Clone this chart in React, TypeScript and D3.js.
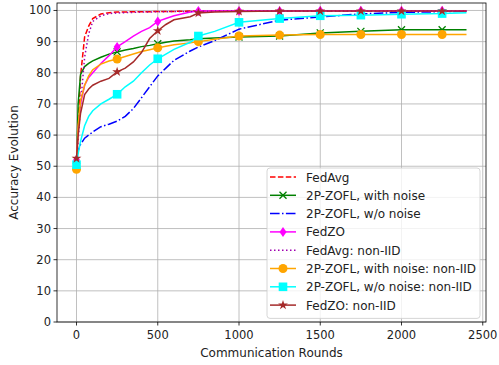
import * as d3 from 'd3';

// Communication rounds sampled for every curve
const rounds = [0, 10, 25, 50, 75, 100, 150, 200, 250, 300, 350, 400, 450, 500, 550, 600, 700, 750, 850, 1000, 1250, 1500, 1750, 2000, 2250, 2400];
const markerRounds = [0, 250, 500, 750, 1000, 1250, 1500, 1750, 2000, 2250];

const fedAvg = [52, 62, 79, 91.5, 95, 97.4, 98.9, 99.3, 99.5, 99.5, 99.6, 99.6, 99.6, 99.7, 99.7, 99.7, 99.8, 99.8, 99.8, 99.8, 99.8, 99.8, 99.8, 99.8, 99.8, 99.8];
const zoflNoise = [50, 70, 79.5, 82, 83, 83.8, 85, 86, 86.7, 87.3, 87.8, 88.4, 88.8, 89.3, 89.8, 90.2, 90.6, 90.9, 91.2, 91.5, 91.8, 92.8, 93.3, 93.8, 93.8, 93.8];
const zoflNoNoise = [53, 55, 57, 59, 60, 61, 62.7, 63.5, 64.5, 66, 68.5, 72, 75.5, 79, 81.5, 84, 87, 88.3, 90.3, 94, 96.9, 97.9, 98.9, 99.4, 99.6, 99.8];
const fedZO = [52, 62, 70, 76, 78.5, 80, 83, 85.5, 88.3, 90, 91.8, 93.3, 94.5, 96.5, 97.4, 98.3, 99.5, 99.8, 99.8, 99.8, 99.8, 99.9, 99.9, 99.9, 99.9, 99.9];
const fedAvgNonIID = [52, 58, 70, 85, 92.5, 96.5, 98.3, 99, 99.2, 99.3, 99.4, 99.5, 99.5, 99.6, 99.6, 99.7, 99.7, 99.7, 99.8, 99.8, 99.8, 99.8, 99.8, 99.8, 99.8, 99.8];
const zoflNoiseNonIID = [49, 63, 71, 76, 79, 81, 82.8, 83.8, 84.4, 85.2, 86, 86.8, 87.4, 88, 88.5, 89, 89.6, 90, 90.8, 91.8, 92.1, 92.3, 92.3, 92.3, 92.3, 92.3];
const zoflNoNoiseNonIID = [50.5, 54, 58, 63, 66, 67.8, 70, 71.5, 73.1, 75.5, 77.3, 80, 82.5, 84.5, 86, 87.5, 89.8, 91.8, 93.3, 96.2, 97.4, 98.3, 98.5, 98.8, 99, 99.3];
const fedZONonIID = [52.5, 60, 67, 73, 74.8, 76, 77.3, 78.2, 80.3, 81.5, 83.5, 86.5, 91, 93.5, 95.5, 97, 98, 99.2, 99.5, 99.7, 99.8, 99.8, 99.8, 99.8, 99.8, 99.8];

const xTicks = [0, 500, 1000, 1500, 2000, 2500];
const yTicks = [0, 10, 20, 30, 40, 50, 60, 70, 80, 90, 100];

type Marker = 'none' | 'x' | 'd' | 'o' | 's' | '*';
interface Series { label: string; values: number[]; color: string; dash?: string; marker: Marker; }

const series: Series[] = [
  { label: 'FedAvg', values: fedAvg, color: '#ff0000', dash: '5.5,2.4', marker: 'none' },
  { label: '2P-ZOFL, with noise', values: zoflNoise, color: '#008000', marker: 'x' },
  { label: '2P-ZOFL, w/o noise', values: zoflNoNoise, color: '#0000ff', dash: '9.6,2.4,1.5,2.4', marker: 'none' },
  { label: 'FedZO', values: fedZO, color: '#ff00ff', marker: 'd' },
  { label: 'FedAvg: non-IID', values: fedAvgNonIID, color: '#a000b0', dash: '1.5,2.5', marker: 'none' },
  { label: '2P-ZOFL, with noise: non-IID', values: zoflNoiseNonIID, color: '#ffa500', marker: 'o' },
  { label: '2P-ZOFL, w/o noise: non-IID', values: zoflNoNoiseNonIID, color: '#00ffff', marker: 's' },
  { label: 'FedZO: non-IID', values: fedZONonIID, color: '#a52a2a', marker: '*' },
];

const W = 499, H = 365;
const m = { left: 57, right: 13, top: 3, bottom: 43 };
const font = "'DejaVu Sans', sans-serif";

function MarkerShape({ kind, x, y, color }: { kind: Marker; x: number; y: number; color: string }) {
  if (kind === 'none') return null;
  if (kind === 'o') return <circle cx={x} cy={y} r={4.5} fill={color} />;
  if (kind === 's') return <rect x={x - 4.3} y={y - 4.3} width={8.6} height={8.6} fill={color} />;
  if (kind === 'x') {
    const s = 3.5;
    return <path d={`M${x - s},${y - s}L${x + s},${y + s}M${x - s},${y + s}L${x + s},${y - s}`} stroke={color} strokeWidth={1.3} fill="none" />;
  }
  if (kind === 'd') {
    return <path d={`M${x},${y - 5}L${x + 3.5},${y}L${x},${y + 5}L${x - 3.5},${y}Z`} fill={color} />;
  }
  const star = d3.symbol().type(d3.symbolStar).size(30)() as string;
  return <path d={star} transform={`translate(${x},${y})`} fill={color} />;
}

export default function App() {
  const iw = W - m.left - m.right;
  const ih = H - m.top - m.bottom;
  const x = d3.scaleLinear().domain([-120, 2520]).range([m.left, m.left + iw]);
  const y = d3.scaleLinear().domain([0, 102.4]).range([m.top + ih, m.top]);
  const line = d3.line<number>().x((_, i) => x(rounds[i])).y(v => y(v));

  const legX = 267, legY = 168, legW = 213, rowH = 18.3;

  return (
    <svg width={W} height={H} style={{ position: 'absolute', left: 0, top: 0 }} fontFamily={font}>
      <rect width={W} height={H} fill="#fff" />
      {/* grid */}
      {xTicks.map(t => (
        <line key={`gx${t}`} x1={x(t)} x2={x(t)} y1={m.top} y2={m.top + ih} stroke="#b0b0b0" strokeWidth={0.8} />
      ))}
      {yTicks.map(t => (
        <line key={`gy${t}`} x1={m.left} x2={m.left + iw} y1={y(t)} y2={y(t)} stroke="#b0b0b0" strokeWidth={0.8} />
      ))}
      {/* curves */}
      {series.map(s => (
        <g key={s.label}>
          <path d={line(s.values) as string} fill="none" stroke={s.color} strokeWidth={1.5} strokeDasharray={s.dash} />
          {markerRounds.map(r => {
            const i = rounds.indexOf(r);
            return <MarkerShape key={r} kind={s.marker} x={x(r)} y={y(s.values[i])} color={s.color} />;
          })}
        </g>
      ))}
      {/* axes frame */}
      <rect x={m.left} y={m.top} width={iw} height={ih} fill="none" stroke="#000" strokeWidth={0.8} />
      {xTicks.map(t => (
        <g key={`tx${t}`}>
          <line x1={x(t)} x2={x(t)} y1={m.top + ih} y2={m.top + ih + 3.5} stroke="#000" strokeWidth={0.8} />
          <text x={x(t)} y={m.top + ih + 17} textAnchor="middle" fontSize={11.5} fill="#222">{t}</text>
        </g>
      ))}
      {yTicks.map(t => (
        <g key={`ty${t}`}>
          <line x1={m.left - 3.5} x2={m.left} y1={y(t)} y2={y(t)} stroke="#000" strokeWidth={0.8} />
          <text x={m.left - 6} y={y(t) + 4} textAnchor="end" fontSize={11.5} fill="#222">{t}</text>
        </g>
      ))}
      <text x={m.left + iw / 2} y={357} textAnchor="middle" fontSize={12} fill="#222">Communication Rounds</text>
      <text transform={`translate(18,${m.top + ih / 2}) rotate(-90)`} textAnchor="middle" fontSize={12} fill="#222">Accuracy Evolution</text>
      {/* legend */}
      <rect x={legX} y={legY} width={legW} height={rowH * series.length + 4} rx={3} fill="#fff" fillOpacity={0.8} stroke="#cccccc" strokeWidth={0.8} />
      {series.map((s, i) => {
        const cy = legY + 9 + i * rowH;
        return (
          <g key={`lg${s.label}`}>
            <line x1={legX + 3} x2={legX + 29} y1={cy} y2={cy} stroke={s.color} strokeWidth={1.5} strokeDasharray={s.dash} />
            <MarkerShape kind={s.marker} x={legX + 16} y={cy} color={s.color} />
            <text x={legX + 39} y={cy + 4.5} fontSize={12} fill="#222">{s.label}</text>
          </g>
        );
      })}
    </svg>
  );
}
